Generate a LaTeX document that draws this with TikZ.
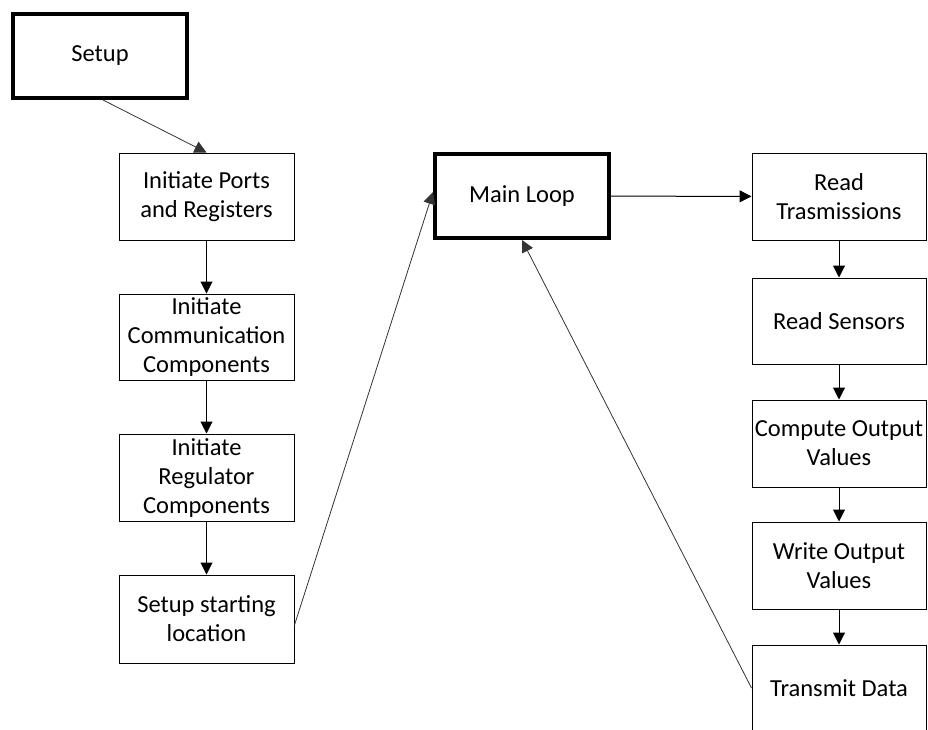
\documentclass[tikz,border=0pt]{standalone}
\usepackage{fontspec}
\setmainfont{Carlito}
\usetikzlibrary{arrows.meta,calc}
\begin{document}
\begin{tikzpicture}[x=1pt,y=-1pt,
  box/.style={draw, line width=1pt, align=center, inner sep=0pt, minimum width=175pt, minimum height=87pt,
    font=\fontsize{24.5}{29}\selectfont},
  thickbox/.style={box, line width=4pt, minimum width=174pt, minimum height=84pt},
  conn/.style={line width=1pt, -{Triangle[length=12pt,width=12pt]}},
  thinconn/.style={line width=0.8pt, draw=black!80, -{Triangle[length=12pt,width=12pt]}}]
\useasboundingbox (0,0) rectangle (928,729);
\clip (0,0) rectangle (928,729);
\node[thickbox] (setup) at (100,56) {Setup};
\node[box] (ports) at (206.5,196.5) {Initiate Ports\\and Registers};
\node[box, minimum height=86pt] (comm) at (206.5,337) {Initiate\\Communication\\Components};
\node[box] (reg) at (206.5,477.5) {Initiate\\Regulator\\Components};
\node[box, minimum height=88pt] (start) at (206.5,619) {Setup starting\\location};
\node[thickbox] (main) at (522,196) {Main Loop};
\node[box, minimum width=174pt] (rt) at (839,196.5) {Read\\Trasmissions};
\node[box, minimum width=174pt, minimum height=86pt] (rs) at (839,321) {Read Sensors};
\node[box, minimum width=174pt] (co) at (839,443.5) {Compute Output\\Values};
\node[box, minimum width=174pt] (wo) at (839,565.5) {Write Output\\Values};
\node[box, minimum width=174pt, minimum height=86pt] (td) at (839,688) {Transmit Data};
\draw[thinconn] ([xshift=3pt]setup.south) -- (ports.north);
\draw[conn] (ports) -- (comm);
\draw[conn] (comm) -- (reg);
\draw[conn] (reg) -- (start);
\draw[thinconn] ([yshift=-6pt]start.east) -- ([yshift=4pt]main.west);
\draw[conn] (main) -- (rt);
\draw[conn] (rt) -- (rs);
\draw[conn] (rs) -- (co);
\draw[conn] (co) -- (wo);
\draw[conn] (wo) -- (td);
\draw[thinconn] (td.west) -- (main.south);
\end{tikzpicture}
\end{document}
